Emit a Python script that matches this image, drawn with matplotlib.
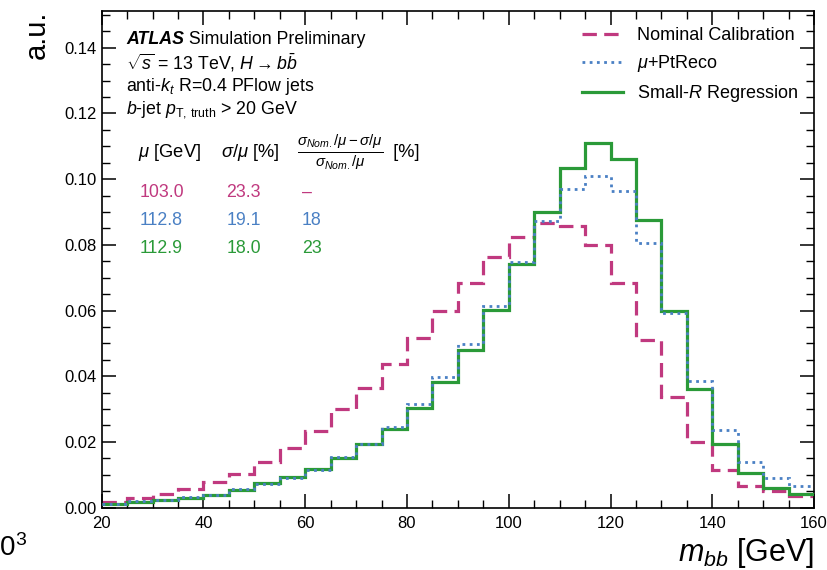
import numpy as np
import matplotlib
matplotlib.use("Agg")
import matplotlib.pyplot as plt

plt.rcParams['font.family'] = ['Liberation Sans', 'DejaVu Sans']
plt.rcParams['mathtext.fontset'] = 'custom'
plt.rcParams['mathtext.rm'] = 'Liberation Sans'
plt.rcParams['mathtext.it'] = 'Liberation Sans:italic'
plt.rcParams['mathtext.bf'] = 'Liberation Sans:bold'

# ---- data ----
bin_edges = np.arange(20, 161, 5)
nominal = [0.0018, 0.0028, 0.0040, 0.0055, 0.0077, 0.0101, 0.0139, 0.0180,
           0.0232, 0.0299, 0.0364, 0.0437, 0.0515, 0.0597, 0.0683, 0.0762,
           0.0824, 0.0865, 0.0857, 0.0798, 0.0685, 0.0510, 0.0336, 0.0201,
           0.0114, 0.0067, 0.0050, 0.0035]
ptreco = [0.0011, 0.0019, 0.0024, 0.0031, 0.0039, 0.0055, 0.0073, 0.0090,
          0.0113, 0.0153, 0.0192, 0.0246, 0.0316, 0.0396, 0.0498, 0.0613,
          0.0747, 0.0872, 0.0970, 0.1011, 0.0965, 0.0806, 0.0593, 0.0385,
          0.0236, 0.0139, 0.0090, 0.0065]
regression = [0.0010, 0.0018, 0.0023, 0.0030, 0.0038, 0.0054, 0.0074, 0.0092,
              0.0117, 0.0150, 0.0192, 0.0240, 0.0304, 0.0382, 0.0481, 0.0603,
              0.0743, 0.0900, 0.1035, 0.1109, 0.1062, 0.0875, 0.0598, 0.0361,
              0.0193, 0.0105, 0.0060, 0.0040]

labels = ["Nominal Calibration", r"$\mu$+PtReco", r"Small-$R$ Regression"]
mu_vals = ["103.0", "112.8", "112.9"]
sigma_vals = ["23.3", "19.1", "18.0"]
improvement = ["\u2013", "18", "23"]

c_pink = "#c0397f"
c_blue = "#4a80c4"
c_green = "#2a9a38"
colors = [c_pink, c_blue, c_green]

fig = plt.figure(figsize=(8.27, 5.70), dpi=100)
ax = fig.add_axes([0.123, 0.1096, 0.9843 - 0.123, 0.9812 - 0.1096])

h1 = ax.stairs(nominal, bin_edges, color=c_pink, lw=2.3, linestyle=(0, (4.5, 2.3)),
               baseline=None, label=labels[0], zorder=2)
h3 = ax.stairs(regression, bin_edges, color=c_green, lw=2.3, linestyle='-',
               baseline=None, label=labels[2], zorder=3)
h2 = ax.stairs(ptreco, bin_edges, color=c_blue, lw=2.0, linestyle=(0, (1, 1.6)),
               baseline=None, label=labels[1], zorder=4)

ax.set_xlim(20, 160)
ax.set_ylim(0, 0.1513)
ax.set_xticks(np.arange(20, 161, 20))
ax.set_xticks(np.arange(20, 161, 5), minor=True)
ax.set_yticks(np.arange(0, 0.141, 0.02))
ax.set_yticks(np.arange(0, 0.151, 0.005), minor=True)
ax.yaxis.set_major_formatter(matplotlib.ticker.FormatStrFormatter('%.2f'))
ax.tick_params(which='both', direction='in', top=True, right=True, labelsize=12)
ax.tick_params(which='major', length=10, width=1.1)
ax.tick_params(which='minor', length=5.5, width=1.0)
ax.tick_params(axis='x', pad=6)
for s in ax.spines.values():
    s.set_linewidth(1.2)

ax.set_xlabel(r"$m_{bb}$ [GeV]", fontsize=22, loc='right', labelpad=4)
ax.set_ylabel("a.u.", fontsize=21, loc='top', labelpad=10)

leg = ax.legend(handles=[h1, h2, h3], loc='upper left', bbox_to_anchor=(0.674, 0.967),
                frameon=False, fontsize=13, handlelength=2.3, handletextpad=0.75,
                labelspacing=0.5, borderaxespad=0, borderpad=0)

tx = 0.034
fs = 12.8
t_atlas = ax.text(tx, 0.943, "ATLAS", transform=ax.transAxes, fontsize=fs,
                  va='center', fontweight='bold', fontstyle='italic')
ax.annotate(" Simulation Preliminary", xy=(1, 0.5), xycoords=t_atlas,
            fontsize=fs, va='center', ha='left')
ax.text(tx, 0.895, r"$\sqrt{s}$ = 13 TeV, $H \rightarrow b\bar{b}$", transform=ax.transAxes,
        fontsize=fs, va='center')
ax.text(tx, 0.848, r"anti-$k_t$ R=0.4 PFlow jets", transform=ax.transAxes,
        fontsize=fs, va='center')
ax.text(tx, 0.801, r"$b$-jet $p_{\mathrm{T,\,truth}}$ > 20 GeV", transform=ax.transAxes,
        fontsize=fs, va='center')

hdr_y = 0.714
ax.text(0.051, hdr_y, r"$\mu$ [GeV]", transform=ax.transAxes, fontsize=13.2, va='center')
ax.text(0.168, hdr_y, r"$\sigma/\mu$ [%]", transform=ax.transAxes, fontsize=13.2, va='center')
t_frac = ax.text(0.274, hdr_y, r"$\frac{\sigma_{Nom.}/\mu - \sigma/\mu}{\sigma_{Nom.}/\mu}$",
                 transform=ax.transAxes, fontsize=15.5, va='center')
ax.annotate("  [%]", xy=(1, 0.5), xycoords=t_frac, fontsize=13.2, va='center', ha='left')

col_x = [0.0535, 0.175, 0.281]
row_y = [0.635, 0.577, 0.521]
for i in range(3):
    ax.text(col_x[0], row_y[i], mu_vals[i], transform=ax.transAxes, fontsize=12.8,
            va='center', color=colors[i])
    ax.text(col_x[1], row_y[i], sigma_vals[i], transform=ax.transAxes, fontsize=12.8,
            va='center', color=colors[i])
    ax.text(col_x[2], row_y[i], improvement[i], transform=ax.transAxes, fontsize=12.8,
            va='center', color=colors[i])

fig.text(-0.019, 0.038, r"10$^3$", fontsize=20, ha='left', va='center')

fig.savefig("out.png", dpi=100)
